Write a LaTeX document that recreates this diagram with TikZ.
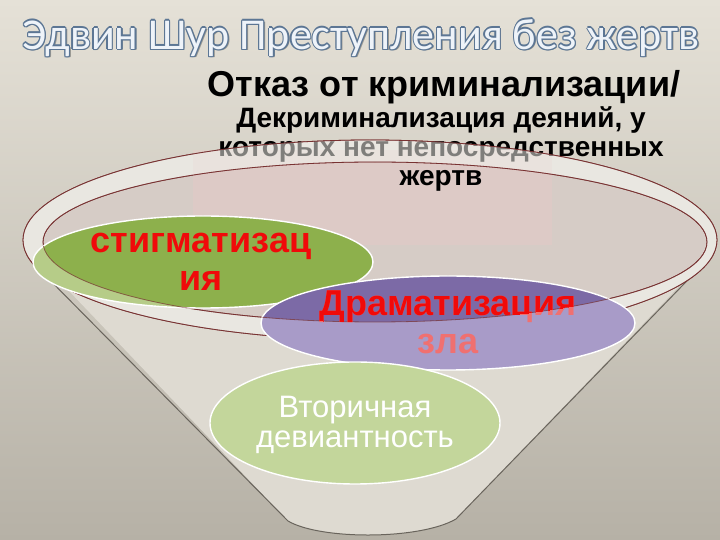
\documentclass[tikz,border=0pt]{standalone}
\usepackage{fontspec}
\setmainfont{Liberation Sans}
\newfontfamily\titlefont{Carlito}
\usepackage{tikz}
\usepackage{xcolor}
\definecolor{bgtop}{RGB}{229,225,215}
\definecolor{bgbot}{RGB}{182,177,166}
\definecolor{bodyfill}{RGB}{222,218,209}
\definecolor{bandfill}{RGB}{233,231,225}
\definecolor{innerfill}{RGB}{214,204,198}
\definecolor{rimline}{RGB}{120,50,50}
\definecolor{sideline}{RGB}{105,100,92}
\definecolor{stigdark}{RGB}{141,176,76}
\definecolor{stiglight}{RGB}{182,204,136}
\definecolor{dramdark}{RGB}{124,106,166}
\definecolor{dramlight}{RGB}{168,155,200}
\definecolor{devfill}{RGB}{195,214,155}
\definecolor{titlefill}{RGB}{238,243,249}
\definecolor{titleline}{RGB}{92,118,148}
\definecolor{titleshade}{RGB}{150,150,145}
\definecolor{textred}{RGB}{240,10,10}
\definecolor{fadedred}{RGB}{240,112,112}
\definecolor{pinkbox}{RGB}{240,200,200}
\newcommand{\outlinetitle}[1]{%
    \rlap{\hspace{0.8pt}\raisebox{-0.8pt}{\color{titleshade}#1}}%
    \foreach \dx/\dy in {-0.6/0,0.6/0,0/-0.6,0/0.6,-0.42/-0.42,0.42/0.42,-0.42/0.42,0.42/-0.42}
        {\rlap{\hspace{\dx pt}\raisebox{\dy pt}{\color{titleline}#1}}}%
    {\color{titlefill}#1}}

\begin{document}
\begin{tikzpicture}[x=0.5pt,y=-0.5pt,
    blacktext/.style={font=\bfseries, align=center, inner sep=0pt},
    redtext/.style={font=\bfseries\fontsize{18}{19}\selectfont, text=textred, align=center, inner sep=0pt},
    rim/.style={rimline, line width=0.4pt}]
    \useasboundingbox (0,0) rectangle (720,540);
    \shade[top color=bgtop, bottom color=bgbot] (0,0) rectangle (720,540);

    \fill[bodyfill] (30,250) -- (288,521) .. controls (320,540) and (420,540) .. (456,519) -- (714,250) -- cycle;
    \draw[sideline, line width=0.5pt] (32,262) -- (288,521) .. controls (320,540) and (420,540) .. (456,519) -- (714,253);

    \draw[rim, fill=bandfill] (370,240) ellipse [x radius=347, y radius=100];
    \draw[rim, fill=innerfill] (375,242) ellipse [x radius=332, y radius=80];
    \fill[pinkbox, opacity=0.3] (193,150) rectangle (552,245);

    \node[blacktext, font=\bfseries\fontsize{18}{19}\selectfont] (otkaz) at (444,87) {Отказ от криминализации/};
    \node[blacktext, font=\bfseries\fontsize{14}{14.3}\selectfont] (dekrim) at (441,149)
        {Декриминализация деяний, у\\которых нет непосредственных\\жертв};

    \fill[bandfill, opacity=0.55, even odd rule] (370,240) ellipse [x radius=347, y radius=100]
        (375,242) ellipse [x radius=332, y radius=80];
    \draw[rim] (370,240) ellipse [x radius=347, y radius=100];
    \draw[rim] (375,242) ellipse [x radius=332, y radius=80];

    \fill[stiglight] (203,262) ellipse [x radius=170, y radius=46];
    \begin{scope}
        \clip (375,242) ellipse [x radius=332, y radius=80];
        \fill[stigdark] (203,262) ellipse [x radius=170, y radius=46];
    \end{scope}
    \draw[white, line width=0.7pt] (203,262) ellipse [x radius=170, y radius=46];

    \fill[dramlight] (448,323) ellipse [x radius=187, y radius=47];
    \begin{scope}
        \clip (375,242) ellipse [x radius=332, y radius=80];
        \fill[dramdark] (448,323) ellipse [x radius=187, y radius=47];
    \end{scope}
    \draw[white, line width=0.7pt] (448,323) ellipse [x radius=187, y radius=47];

    \draw[white, fill=devfill, line width=0.7pt] (355,423) ellipse [x radius=145, y radius=61];

    \begin{scope}
        \clip (203,262) ellipse [x radius=170, y radius=46] (448,323) ellipse [x radius=187, y radius=47];
        \draw[rim, opacity=0.7] (375,242) ellipse [x radius=332, y radius=80];
    \end{scope}

    \node[redtext] (stigma) at (201,262) {стигматизац\\ия};
    \node[redtext, text=fadedred] (drama) at (448,322) {Драматизация\\зла};
    \begin{scope}
        \clip (375,242) ellipse [x radius=332, y radius=80];
        \node[redtext] (dramatop) at (drama) {Драматизация\\зла};
    \end{scope}
    \node[align=center, inner sep=0pt, text=white, font=\fontsize{15.5}{15}\selectfont] (vtor) at (355,425)
        {Вторичная\\девиантность};

    \node[inner sep=0pt, font=\titlefont\fontsize{22}{24}\selectfont] (title) at (361,38)
        {\outlinetitle{Эдвин Шур Преступления без жертв}};
\end{tikzpicture}
\end{document}
